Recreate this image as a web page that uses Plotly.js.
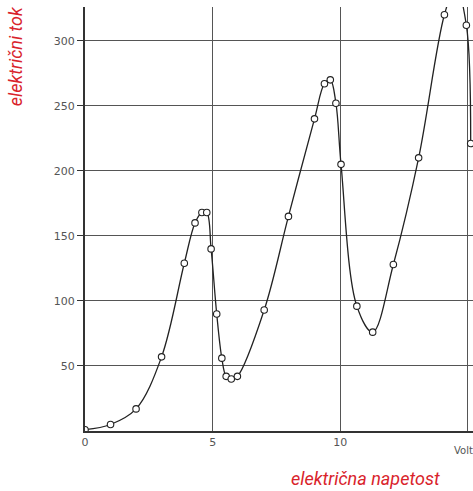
<!DOCTYPE html>
<html>
<head>
<meta charset="utf-8">
<script src="https://cdn.plot.ly/plotly-3.0.1.min.js"></script>
<style>html,body{margin:0;padding:0;background:#fff;}#chart{width:473px;height:491px;}</style>
</head>
<body>
<div id="chart"></div>
<script>
// Measured points (voltage in V, current)
const voltage = [0, 1, 2, 3, 3.89, 4.31, 4.58, 4.77, 4.94, 5.16, 5.36, 5.53, 5.73, 5.97, 7.02, 7.97, 8.99, 9.38, 9.61, 9.83, 10.03, 10.65, 11.27, 12.08, 13.07, 14.08, 14.94, 15.11];
const current = [1, 5, 17, 57, 129, 160, 168, 168, 140, 90, 56, 42, 40, 42, 93, 165, 240, 267, 270, 252, 205, 96, 76, 128, 210, 320, 312, 221];
// Estimated peak of the drawn curve above the top edge (clipped in the picture)
const peakVoltage = 14.52;
const peakCurrent = 342;

const xTicks = [0, 5, 10, 15];
const xTickText = ['0', '5', '10', '15'];
const yTicks = [50, 100, 150, 200, 250, 300];
const yTickText = ['50', '100', '150', '200', '250', '300'];

const xTitle = 'električna napetost';
const yTitle = 'električni tok';
const unitLabel = 'Volt';

// curve arrays: measured points plus the clipped peak
const curveV = [], curveI = [];
voltage.forEach((v, i) => {
  if (v > peakVoltage && (i === 0 || voltage[i - 1] < peakVoltage)) { curveV.push(peakVoltage); curveI.push(peakCurrent); }
  curveV.push(v); curveI.push(current[i]);
});

const red = '#d9232b';
const gridC = '#555555';
const axisC = '#333333';

const traces = [
  {x: curveV, y: curveI, mode: 'lines', line: {color: '#222', width: 1.3, shape: 'spline', smoothing: 1}, hoverinfo: 'skip', cliponaxis: true},
  {x: voltage, y: current, mode: 'markers', marker: {symbol: 'circle', size: 6.5, color: '#fff', line: {color: '#222', width: 1.1}}, cliponaxis: true}
];

const layout = {
  width: 473, height: 491,
  margin: {l: 85, r: 0, t: 7, b: 60},
  paper_bgcolor: '#fff', plot_bgcolor: '#fff',
  showlegend: false,
  font: {family: 'DejaVu Sans', size: 11, color: '#555'},
  xaxis: {
    range: [0, 15.2], tickvals: xTicks, ticktext: xTickText, ticks: '',
    showgrid: true, gridcolor: gridC, gridwidth: 1, zeroline: false,
    showline: true, linecolor: axisC, linewidth: 2,
    tickfont: {family: 'DejaVu Sans', size: 11, color: '#555'}, fixedrange: true
  },
  yaxis: {
    range: [0, 326], tickvals: yTicks, ticktext: yTickText, ticks: 'outside', ticklen: 6, tickwidth: 1, tickcolor: axisC,
    showgrid: true, gridcolor: gridC, gridwidth: 1, zeroline: false,
    showline: true, linecolor: axisC, linewidth: 2,
    tickfont: {family: 'DejaVu Sans', size: 11, color: '#555'}, fixedrange: true
  },
  annotations: [
    {text: xTitle, xref: 'paper', yref: 'paper', x: 0.724, y: -0.113, xanchor: 'center', yanchor: 'middle', showarrow: false,
     font: {family: 'Roboto', size: 18, color: red, style: 'italic'}},
    {text: yTitle, xref: 'paper', yref: 'paper', x: -0.180, y: 0.884, xanchor: 'center', yanchor: 'middle', textangle: -90, showarrow: false,
     font: {family: 'Roboto', size: 18, color: red, style: 'italic'}},
    {text: unitLabel, xref: 'paper', yref: 'paper', x: 0.946, y: -0.045, xanchor: 'left', yanchor: 'middle', showarrow: false,
     font: {family: 'DejaVu Sans', size: 10, color: '#555'}}
  ]
};

Plotly.newPlot('chart', traces, layout, {displayModeBar: false, staticPlot: true});
</script>
</body>
</html>
